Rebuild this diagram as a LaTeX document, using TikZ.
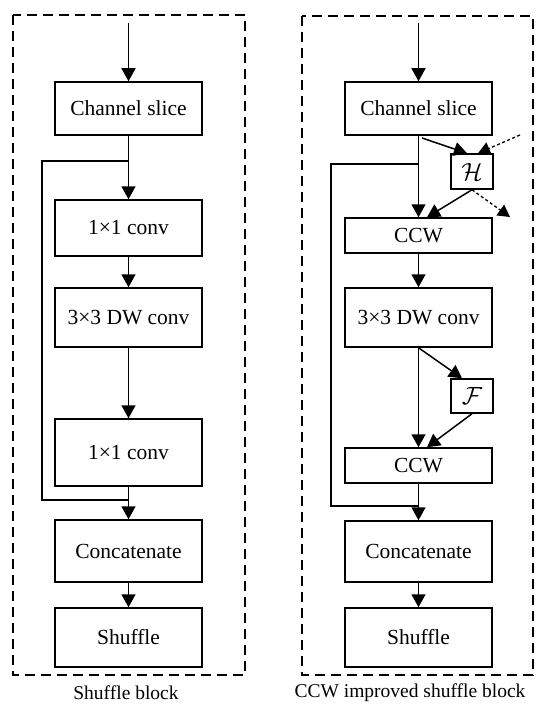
\documentclass[tikz,border=0pt]{standalone}
\usepackage{fontspec}
\setmainfont{Liberation Serif}
\usetikzlibrary{arrows.meta,calc}
\begin{document}
\begin{tikzpicture}[x=1pt,y=-1pt,
  blk/.style={draw,line width=1.5pt,minimum width=147pt,inner sep=0pt,font=\fontsize{21.5}{24}\selectfont},
  sm/.style={draw,line width=1.5pt,minimum width=42pt,minimum height=35pt,inner sep=0pt,font=\fontsize{30}{32}\selectfont},
  conn/.style={line width=1.5pt},
  arr/.style={line width=1.5pt,-{Triangle[width=14pt,length=13pt]}},
  darr/.style={line width=1.3pt,dash pattern=on 3pt off 2.5pt,-{Triangle[width=13pt,length=12pt]}},
  frame/.style={line width=1.3pt,dash pattern=on 10pt off 6pt},
  captxt/.style={font=\fontsize{19.5}{22}\selectfont}]
\useasboundingbox (0,0) rectangle (543,709);
% frames
\draw[frame] (13,15) rectangle (245,675);
\draw[frame] (302,16) rectangle (533,675);
% left column
\node[blk,minimum height=53pt] (cs1) at (128.5,108.5) {Channel slice};
\node[blk,minimum height=56pt] (ca1) at (128.5,228) {1×1 conv};
\node[blk,minimum height=59pt] (dw1) at (128.5,317.5) {3×3 DW conv};
\node[blk,minimum height=67pt] (cb1) at (128.5,452.5) {1×1 conv};
\node[blk,minimum height=62pt] (cat1) at (128.5,551) {Concatenate};
\node[blk,minimum height=59pt] (sh1) at (128.5,637.5) {Shuffle};
\coordinate (in1) at (128.5,23);
\coordinate (j1) at (128.5,161);
\coordinate (m1) at (128.5,500);
\draw[arr] (in1) -- (cs1);
\draw[arr] (cs1) -- (ca1);
\draw[arr] (ca1) -- (dw1);
\draw[arr] (dw1) -- (cb1);
\draw[arr] (cb1) -- (cat1);
\draw[arr] (cat1) -- (sh1);
\draw[conn] (j1) -- (42,161) -- (42,500) -- (m1);
% right column
\node[blk,minimum height=53pt] (cs2) at (418.5,108.5) {Channel slice};
\node[blk,minimum height=35pt] (ccw1) at (418.5,235.5) {CCW};
\node[blk,minimum height=59pt] (dw2) at (418.5,317.5) {3×3 DW conv};
\node[blk,minimum height=35pt] (ccw2) at (418.5,465.5) {CCW};
\node[blk,minimum height=61pt] (cat2) at (418.5,551.5) {Concatenate};
\node[blk,minimum height=59pt] (sh2) at (418.5,637.5) {Shuffle};
\node[sm] (H) at (472,171.5) {$\mathcal{H}$};
\node[sm,minimum height=34pt] (F) at (472,396) {$\mathcal{F}$};
\coordinate (in2) at (418.5,23);
\coordinate (j2) at (418.5,164);
\coordinate (m2) at (418.5,506);
\coordinate (hs) at (422,138);
\coordinate (hin) at (520,135);
\coordinate (hout) at (510,217);
\draw[arr] (in2) -- (cs2);
\draw[arr] (cs2) -- (ccw1);
\draw[arr] (ccw1) -- (dw2);
\draw[arr] (dw2) -- (ccw2);
\draw[arr] (ccw2) -- (cat2);
\draw[arr] (cat2) -- (sh2);
\draw[conn] (j2) -- (331,164) -- (331,506) -- (m2);
\draw[arr] (hs) -- ($(H.north)+(-5,0)$);
\draw[darr] (hin) -- ($(H.north)+(6,0)$);
\draw[arr] (H.south) -- ($(ccw1.north)+(8.5,0)$);
\draw[darr] (H.south) -- (hout);
\draw[arr] (dw2.south) -- ($(F.north)+(-10,0)$);
\draw[arr] (F.south) -- ($(ccw2.north)+(8.5,0)$);
% captions
\node[captxt] (t1) at (126,693) {Shuffle block};
\node[captxt] (t2) at (410,693) {CCW improved shuffle block};
\end{tikzpicture}
\end{document}
